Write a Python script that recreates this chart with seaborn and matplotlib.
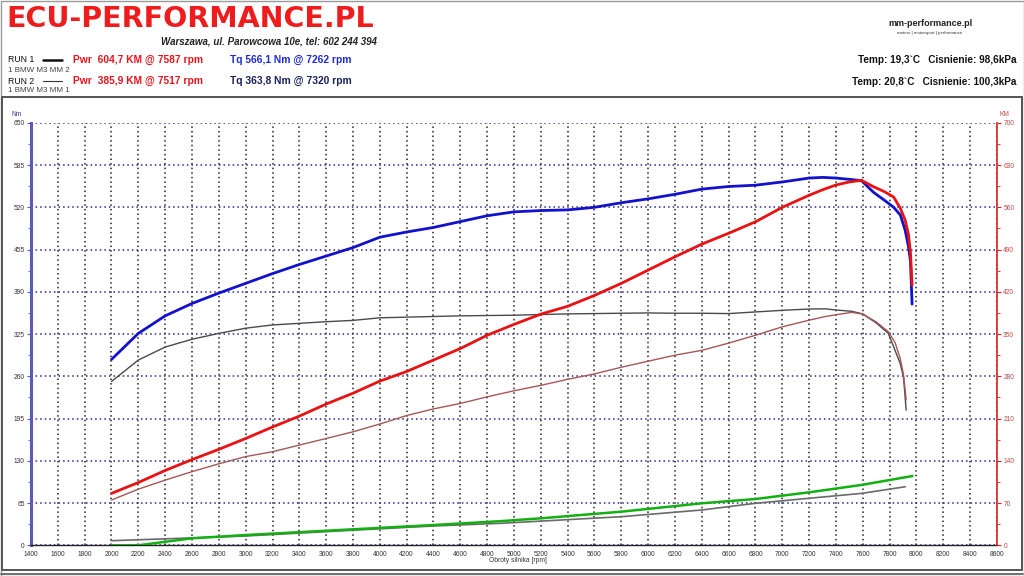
import numpy as np
import pandas as pd
import matplotlib
matplotlib.use("Agg")
import matplotlib.pyplot as plt
from matplotlib.lines import Line2D
from matplotlib.patches import Rectangle
from matplotlib.ticker import MultipleLocator
import seaborn as sns

# ---------------- data ----------------
rpm_run1 = [2000, 2200, 2400, 2600, 2800, 3000, 3200, 3400, 3600, 3800, 4000, 4200,
            4400, 4600, 4800, 5000, 5200, 5400, 5600, 5800, 6000, 6200, 6400, 6600,
            6800, 7000, 7200, 7300, 7400, 7500, 7590, 7680, 7760, 7830, 7880, 7915,
            7940, 7955, 7967]
torque_run1 = [286, 326, 353, 372, 388, 403, 418, 432, 445, 458, 474, 482,
               489, 498, 507, 513, 515, 516, 520, 527, 533, 540, 548, 552,
               554, 559, 565, 566, 565, 563, 561, 543, 531, 520, 508, 485,
               460, 437, 371]
power_run1 = [86, 104, 124, 142, 159, 177, 196, 214, 234, 252, 272, 288,
              307, 326, 348, 366, 383, 396, 414, 434, 456, 478, 499, 517,
              536, 560, 580, 589, 597, 602, 604.7, 594, 586, 577, 558, 539,
              515, 485, 431]

rpm_run2 = [2000, 2200, 2400, 2600, 2800, 3000, 3200, 3400, 3600, 3800, 4000, 4200,
            4400, 4600, 4800, 5000, 5200, 5400, 5600, 5800, 6000, 6200, 6400, 6600,
            6800, 7000, 7200, 7320, 7400, 7517, 7600, 7700, 7790, 7840, 7878, 7903,
            7923]
torque_run2 = [252, 285, 305, 317, 326, 334, 339, 341.5, 344, 346, 350, 351,
               352, 353, 353.5, 354, 355, 356, 356.5, 357, 357.5, 357, 357, 356.5,
               359, 361.5, 363.5, 363.8, 362, 360, 356, 342, 326, 300, 280, 259,
               208]
power_run2 = [75, 93, 108, 122, 135, 147, 155, 166, 177, 188, 201, 215,
              226, 235, 246, 256, 265, 275, 284, 295, 305, 315, 323, 335,
              348, 362, 373, 379, 382, 385.9, 383, 370, 354, 336, 310, 283,
              241]

rpm_loss1 = [2000, 2200, 2600, 3000, 3800, 4400, 4900, 5200, 5800, 6400, 6800, 7200, 7590, 7970]
loss_run1 = [0, 0, 11.6, 17, 26.5, 33.6, 40, 44.7, 55.7, 69.6, 76.7, 87.8, 100, 114.8]
rpm_loss2 = [2000, 3000, 3800, 4400, 4900, 5800, 6400, 6800, 7200, 7590, 7916]
loss_run2 = [7.6, 15.4, 25, 32, 36.4, 47.4, 58.5, 69.6, 77.9, 86, 97]

x_ticks = list(range(1400, 8601, 200))
nm_ticks = list(range(0, 651, 65))
km_ticks = list(range(0, 701, 70))

# ---------------- figure ----------------
sns.set_style("white")
plt.rcParams["font.family"] = ["Liberation Sans", "DejaVu Sans"]

W, H = 1024, 576
fig = plt.figure(figsize=(W / 100, H / 100), dpi=100)
fig.patch.set_facecolor("white")

def fx(px):
    return px / W

def fy(py):
    return 1 - py / H

x0, x1 = 31, 997
y_top, y_bot = 122.8, 545.3
ax = fig.add_axes([fx(x0), fy(y_bot), fx(x1 - x0), (y_bot - y_top) / H])
ax2 = ax.twinx()

ax.set_xlim(1400, 8600)
ax.set_ylim(0, 650)
ax2.set_ylim(0, 700)

# grid
ax.set_xticks(x_ticks)
ax.set_yticks(nm_ticks)
ax2.set_yticks(km_ticks)
ax.xaxis.grid(True, linestyle=(0, (1, 2)), color="#222222", linewidth=1.1)
ax.yaxis.grid(True, linestyle=(0, (1, 2)), color="#2a2a88", linewidth=1.1)
ax2.grid(False)
ax.set_axisbelow(True)

# curves
df_t1 = pd.DataFrame({"rpm": rpm_run1, "val": torque_run1})
df_p1 = pd.DataFrame({"rpm": rpm_run1, "val": power_run1})
df_t2 = pd.DataFrame({"rpm": rpm_run2, "val": torque_run2})
df_p2 = pd.DataFrame({"rpm": rpm_run2, "val": power_run2})
df_l1 = pd.DataFrame({"rpm": rpm_loss1, "val": loss_run1})
df_l2 = pd.DataFrame({"rpm": rpm_loss2, "val": loss_run2})

sns.lineplot(data=df_t2, x="rpm", y="val", ax=ax, color="#4a4a4a", lw=1.0, estimator=None, sort=False)
sns.lineplot(data=df_t1, x="rpm", y="val", ax=ax, color="#1212cc", lw=2.0, estimator=None, sort=False)
sns.lineplot(data=df_l2, x="rpm", y="val", ax=ax2, color="#6a6a6a", lw=1.2, estimator=None, sort=False)
sns.lineplot(data=df_l1, x="rpm", y="val", ax=ax2, color="#12b012", lw=1.8, estimator=None, sort=False)
sns.lineplot(data=df_p2, x="rpm", y="val", ax=ax2, color="#a85656", lw=1.0, estimator=None, sort=False)
sns.lineplot(data=df_p1, x="rpm", y="val", ax=ax2, color="#e81212", lw=2.0, estimator=None, sort=False)

ax.set_xlabel("")
ax.set_ylabel("")
ax2.set_ylabel("")

# spines
for s in ["top", "right"]:
    ax.spines[s].set_visible(False)
for s in ["top", "left", "bottom"]:
    ax2.spines[s].set_visible(False)
ax.spines["left"].set_color("#5a5ab8")
ax.spines["left"].set_linewidth(2.2)
ax.spines["bottom"].set_color("#222222")
ax.spines["bottom"].set_linewidth(1.0)
ax2.spines["right"].set_color("#dd2222")
ax2.spines["right"].set_linewidth(1.2)

# ticks
ax.yaxis.set_minor_locator(MultipleLocator(32.5))
ax2.yaxis.set_minor_locator(MultipleLocator(35))
ax.xaxis.set_minor_locator(MultipleLocator(50))
ax.tick_params(axis="y", which="major", direction="out", length=3, width=0.8,
               color="#5a5ab8", labelcolor="#333333", labelsize=4.8, pad=1.5)
ax.tick_params(axis="y", which="minor", direction="out", length=2, width=0.6, color="#5a5ab8")
ax.tick_params(axis="x", which="major", direction="inout", length=4, width=0.8,
               color="#222222", labelcolor="#333333", labelsize=4.8, pad=2)
ax.tick_params(axis="x", which="minor", direction="out", length=1.5, width=0.5, color="#444444")
ax2.tick_params(axis="y", which="major", direction="out", length=3, width=0.8,
                color="#dd2222", labelcolor="#c04848", labelsize=4.8, pad=1.5)
ax2.tick_params(axis="y", which="minor", direction="out", length=2, width=0.6, color="#dd2222")

# axis unit labels
fig.text(fx(17), fy(115), "Nm", fontsize=4.8, color="#3a3a8a", ha="center", va="center")
fig.text(fx(1004), fy(115), "KM", fontsize=4.8, color="#c04848", ha="center", va="center")
fig.text(fx(518), fy(560), "Obroty silnika [rpm]", fontsize=4.8, color="#333333", ha="center", va="center")

# ---------------- header ----------------
fig.text(fx(6), fy(27), "ECU-PERFORMANCE.PL", fontsize=20.5, fontweight="heavy",
         family=["DejaVu Sans"], color="#ee1c1c", ha="left", va="baseline")
fig.text(fx(377), fy(42), "Warszawa, ul. Parowcowa 10e, tel: 602 244 394", fontsize=7,
         fontweight="bold", fontstyle="italic", color="#222222", ha="right", va="center")

fig.text(fx(8), fy(59), "RUN 1", fontsize=6.3, color="#111111", ha="left", va="center")
fig.text(fx(8), fy(70), "1 BMW M3 MM 2", fontsize=5.8, color="#444444", ha="left", va="center")
fig.text(fx(8), fy(81), "RUN 2", fontsize=6.3, color="#111111", ha="left", va="center")
fig.text(fx(8), fy(91), "1 BMW M3 MM 1", fontsize=5.8, color="#444444", ha="left", va="center")
fig.add_artist(Line2D([fx(43), fx(62)], [fy(60), fy(60)], color="#111111", lw=1.8,
                      transform=fig.transFigure))
fig.add_artist(Line2D([fx(43), fx(62)], [fy(81), fy(81)], color="#333333", lw=0.8,
                      transform=fig.transFigure))

fig.text(fx(73), fy(59.5), "Pwr  604,7 KM @ 7587 rpm", fontsize=7.4, fontweight="bold",
         color="#e8141e", ha="left", va="center")
fig.text(fx(73), fy(81), "Pwr  385,9 KM @ 7517 rpm", fontsize=7.4, fontweight="bold",
         color="#e8141e", ha="left", va="center")
fig.text(fx(230), fy(59.5), "Tq 566,1 Nm @ 7262 rpm", fontsize=7.4, fontweight="bold",
         color="#1e2ad2", ha="left", va="center")
fig.text(fx(230), fy(81), "Tq 363,8 Nm @ 7320 rpm", fontsize=7.4, fontweight="bold",
         color="#1a1f5e", ha="left", va="center")

fig.text(fx(1016), fy(60), "Temp: 19,3`C   Cisnienie: 98,6kPa", fontsize=7.2, fontweight="bold",
         color="#111111", ha="right", va="center")
fig.text(fx(1016), fy(82), "Temp: 20,8`C   Cisnienie: 100,3kPa", fontsize=7.2, fontweight="bold",
         color="#111111", ha="right", va="center")

fig.text(fx(930), fy(24), "mm-performance.pl", fontsize=6.5, fontweight="bold",
         color="#222222", ha="center", va="center")
fig.text(fx(930), fy(33), "motors | motorsport | performance", fontsize=3.2,
         color="#333333", ha="center", va="center")

# ---------------- frame ----------------
fig.add_artist(Rectangle((fx(0.5), fy(575.5)), fx(1023), 575 / H, fill=False,
                         edgecolor="#9a9a9a", lw=1.0, transform=fig.transFigure))
fig.add_artist(Rectangle((fx(1.5), fy(570)), fx(1020), (570 - 97) / H, fill=False,
                         edgecolor="#555555", lw=1.4, transform=fig.transFigure))
fig.add_artist(Line2D([fx(1), fx(1023)], [fy(573.5), fy(573.5)], color="#555555", lw=1.2,
                      transform=fig.transFigure))

fig.savefig("out.png", dpi=100, facecolor="white")
